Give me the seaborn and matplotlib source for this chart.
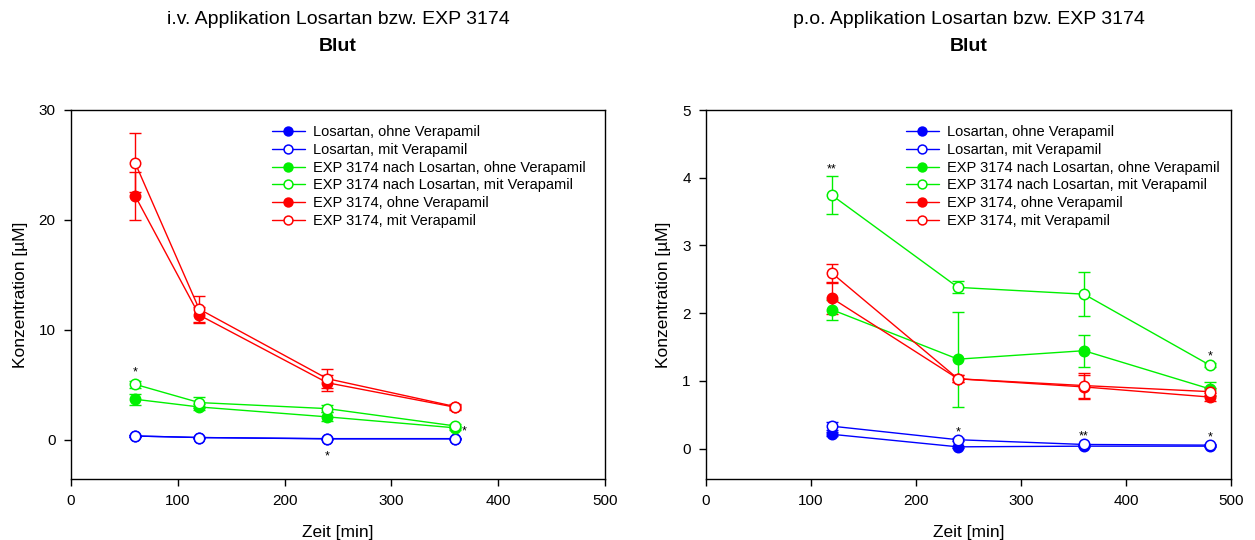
import numpy as np
import pandas as pd
import matplotlib
matplotlib.use("Agg")
import matplotlib.pyplot as plt
import seaborn as sns

# ---------------- data ----------------
labels = ["Losartan, ohne Verapamil", "Losartan, mit Verapamil",
          "EXP 3174 nach Losartan, ohne Verapamil", "EXP 3174 nach Losartan, mit Verapamil",
          "EXP 3174, ohne Verapamil", "EXP 3174, mit Verapamil"]
colors = ["#0000ff", "#0000ff", "#00f000", "#00f000", "#ff0000", "#ff0000"]
filled = [True, False, True, False, True, False]

# i.v. (left)
iv_time = [60, 120, 240, 360]
iv_los_ohne = [0.36, 0.22, 0.12, 0.12]
iv_los_mit = [0.36, 0.22, 0.10, 0.10]
iv_exp_l_ohne = [3.7, 3.0, 2.1, 1.1]
iv_exp_l_mit = [5.06, 3.4, 2.85, 1.27]
iv_exp_ohne = [22.2, 11.36, 5.2, 2.97]
iv_exp_mit = [25.2, 11.9, 5.57, 3.03]
iv_err_los_ohne = [0.05, 0.05, 0.05, 0.05]
iv_err_los_mit = [0.05, 0.05, 0.05, 0.05]
iv_err_exp_l_ohne = [0.5, 0.3, 0.4, 0.2]
iv_err_exp_l_mit = [0.3, 0.5, 0.3, 0.15]
iv_err_exp_ohne = [2.2, 0.7, 0.75, 0.25]
iv_err_exp_mit = [2.7, 1.2, 0.85, 0.25]

# p.o. (right)
po_time = [120, 240, 360, 480]
po_los_ohne = [0.21, 0.025, 0.035, 0.035]
po_los_mit = [0.33, 0.13, 0.06, 0.05]
po_exp_l_ohne = [2.05, 1.32, 1.445, 0.88]
po_exp_l_mit = [3.74, 2.38, 2.28, 1.23]
po_exp_ohne = [2.22, 1.03, 0.91, 0.76]
po_exp_mit = [2.59, 1.03, 0.93, 0.84]
po_err_los_ohne = [0.03, 0.01, 0.01, 0.01]
po_err_los_mit = [0.06, 0.02, 0.01, 0.01]
po_err_exp_l_ohne = [0.15, 0.7, 0.235, 0.1]
po_err_exp_l_mit = [0.28, 0.09, 0.32, 0.03]
po_err_exp_ohne = [0.23, 0.05, 0.18, 0.06]
po_err_exp_mit = [0.13, 0.05, 0.18, 0.05]

# significance marks (x, y, text)
iv_marks = [(60, 6.1, "*"), (368, 0.8, "*"), (240, -1.5, "*")]
po_marks = [(120, 4.12, "**"), (240, 0.24, "*"), (360, 0.18, "**"), (480, 0.16, "*"), (480, 1.36, "*")]

sns.set_style("ticks")
plt.rcParams["font.family"] = ["Liberation Sans", "DejaVu Sans"]
plt.rcParams["text.color"] = "black"
plt.rcParams["axes.labelcolor"] = "black"
plt.rcParams["xtick.color"] = "black"
plt.rcParams["ytick.color"] = "black"

fig = plt.figure(figsize=(12.55, 5.4), dpi=100)
axL = fig.add_axes([71/1255, 1 - 479/540, (605-71)/1255, (479-110)/540])
axR = fig.add_axes([706/1255, 1 - 479/540, (1231-706)/1255, (479-110)/540])


def draw(ax, t, series, errs, marks, ylim, yticks, title, leg_anchor):
    for lab, c, f, y, e in zip(labels, colors, filled, series, errs):
        df = pd.DataFrame({"Zeit": t, "Konz": y})
        ax.errorbar(t, y, yerr=e, fmt="none", ecolor=c, elinewidth=1, capsize=4.5, capthick=1, zorder=2)
        sns.lineplot(data=df, x="Zeit", y="Konz", ax=ax, color=c, lw=1, marker="o",
                     markersize=7.5, markerfacecolor=(c if f else "white"), markeredgecolor=c,
                     markeredgewidth=1.1, label=lab, zorder=3)
    for x, y, s in marks:
        ax.text(x, y, s, ha="center", va="center", fontsize=9, color="black")
    ax.set_xlim(0, 500)
    ax.set_ylim(*ylim)
    ax.set_xticks([0, 100, 200, 300, 400, 500])
    ax.set_yticks(yticks)
    ax.tick_params(direction="out", length=5, width=1, labelsize=11, colors="black", pad=6)
    for s in ax.spines.values():
        s.set_visible(True)
        s.set_linewidth(1)
        s.set_color("black")
    ax.set_xlabel("Zeit [min]", fontsize=12.5, labelpad=12, color="black")
    ax.set_ylabel("Konzentration [µM]", fontsize=12.5, labelpad=8, color="black")
    leg = ax.legend(loc="upper right", bbox_to_anchor=leg_anchor, frameon=False, fontsize=10.5,
                    handlelength=2.3, labelspacing=0.26, handletextpad=0.55, borderaxespad=0.0,
                    markerscale=0.85)
    for txt in leg.get_texts():
        txt.set_color("black")
    ax.text(0.5, 1.245, title, transform=ax.transAxes, ha="center", va="center", fontsize=14,
            color="black")
    ax.text(0.5, 1.172, "Blut", transform=ax.transAxes, ha="center", va="center", fontsize=14,
            fontweight="bold", color="black")


draw(axL, iv_time,
     [iv_los_ohne, iv_los_mit, iv_exp_l_ohne, iv_exp_l_mit, iv_exp_ohne, iv_exp_mit],
     [iv_err_los_ohne, iv_err_los_mit, iv_err_exp_l_ohne, iv_err_exp_l_mit, iv_err_exp_ohne, iv_err_exp_mit],
     iv_marks, (-3.55, 30), [0, 10, 20, 30], "i.v. Applikation Losartan bzw. EXP 3174", (0.975, 0.975))
draw(axR, po_time,
     [po_los_ohne, po_los_mit, po_exp_l_ohne, po_exp_l_mit, po_exp_ohne, po_exp_mit],
     [po_err_los_ohne, po_err_los_mit, po_err_exp_l_ohne, po_err_exp_l_mit, po_err_exp_ohne, po_err_exp_mit],
     po_marks, (-0.45, 5), [0, 1, 2, 3, 4, 5], "p.o. Applikation Losartan bzw. EXP 3174", (0.99, 0.975))

fig.savefig("out.png", dpi=100, facecolor="white")
